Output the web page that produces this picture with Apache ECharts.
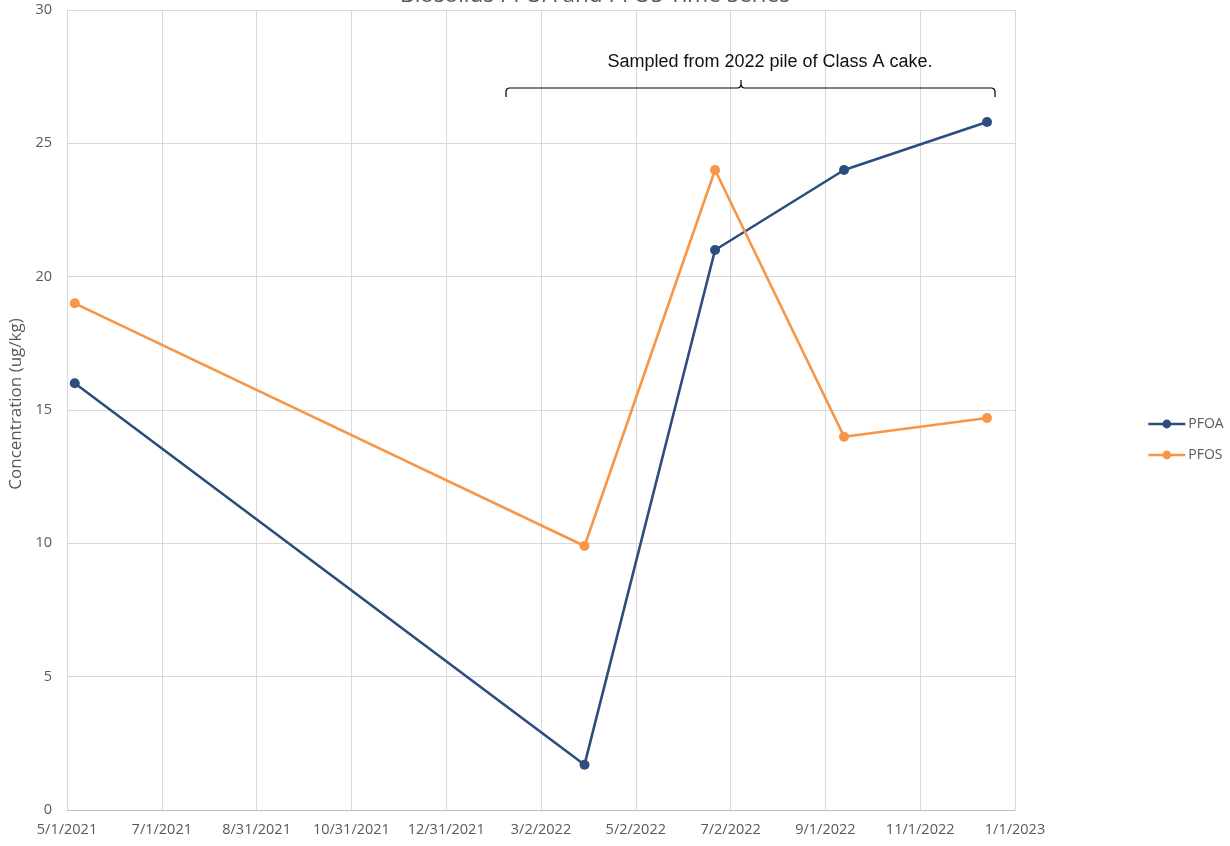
<!DOCTYPE html>
<html>
<head>
<meta charset="utf-8">
<script src="https://cdn.jsdelivr.net/npm/echarts@6/dist/echarts.min.js"></script>
<style>
  html, body { margin: 0; padding: 0; background: #fff; }
  #chart { width: 1230px; height: 846px; }
</style>
</head>
<body>
<div id="chart"></div>
<script>
// Sample dates and measured concentrations (ug/kg)
const sampleDates = ['2021-05-06', '2022-03-30', '2022-06-22', '2022-09-13', '2022-12-14'];
const pfoaValues = [16, 1.7, 21, 24, 25.8];
const pfosValues = [19, 9.9, 24, 14, 14.7];

// Date axis: starts 5/1/2021, one tick every 61 days
const axisStart = '2021-05-01';
const tickDays = 61;
const tickCount = 10;

const DAY = 86400000;
const startMs = Date.parse(axisStart + 'T00:00:00Z');
const dayOffset = d => (Date.parse(d + 'T00:00:00Z') - startMs) / DAY;
const fmtDate = days => {
  const dt = new Date(startMs + Math.round(days) * DAY);
  return (dt.getUTCMonth() + 1) + '/' + dt.getUTCDate() + '/' + dt.getUTCFullYear();
};

const pfoaData = sampleDates.map((d, i) => [dayOffset(d), pfoaValues[i]]);
const pfosData = sampleDates.map((d, i) => [dayOffset(d), pfosValues[i]]);

const FONT = '"Open Sans", "Noto Sans", sans-serif';
const grey = '#595959';

const chart = echarts.init(document.getElementById('chart'), null, { renderer: 'canvas' });
chart.setOption({
  animation: false,
  textStyle: { fontFamily: FONT },
  grid: { left: 67, right: 215, top: 10, bottom: 36, outerBoundsMode: 'none', containLabel: false },
  xAxis: {
    type: 'value',
    min: 0,
    max: tickDays * tickCount,
    interval: tickDays,
    axisLine: { show: true, lineStyle: { color: '#bfbfbf', width: 1 } },
    axisTick: { show: false },
    splitLine: { show: true, lineStyle: { color: '#d9d9d9', width: 1 } },
    axisLabel: { color: grey, fontSize: 14.5, margin: 12, formatter: v => fmtDate(v), fontFamily: FONT }
  },
  yAxis: {
    type: 'value',
    min: 0,
    max: 30,
    interval: 5,
    name: 'Concentration (ug/kg)',
    nameLocation: 'middle',
    nameGap: 42,
    nameTextStyle: { color: grey, fontSize: 17, fontFamily: FONT, padding: [0, 0, 0, 12] },
    axisLine: { show: false },
    axisTick: { show: false },
    splitLine: { show: true, lineStyle: { color: '#d9d9d9', width: 1 } },
    axisLabel: { color: grey, fontSize: 14.5, margin: 15, fontFamily: FONT }
  },
  legend: {
    orient: 'vertical',
    left: 1142,
    top: 412,
    itemWidth: 37,
    itemHeight: 11,
    itemGap: 17,
    lineStyle: { width: 2.6 },
    textStyle: { color: grey, fontSize: 14, fontFamily: FONT, padding: [0, 0, 0, -2] },
    data: ['PFOA', 'PFOS']
  },
  series: [
    {
      name: 'PFOA',
      type: 'line',
      data: pfoaData,
      symbol: 'circle',
      symbolSize: 10,
      lineStyle: { color: '#2C4D7D', width: 2.6 },
      itemStyle: { color: '#2C4D7D' }
    },
    {
      name: 'PFOS',
      type: 'line',
      data: pfosData,
      symbol: 'circle',
      symbolSize: 10,
      lineStyle: { color: '#F79646', width: 2.6 },
      itemStyle: { color: '#F79646' }
    }
  ],
  graphic: [
    {
      type: 'text',
      x: 595,
      y: -16,
      z: 100,
      silent: true,
      style: {
        text: 'Biosolids PFOA and PFOS Time Series',
        fontSize: 22.5,
        fill: grey,
        fontFamily: FONT,
        align: 'center',
        verticalAlign: 'top'
      }
    },
    {
      type: 'text',
      x: 770,
      y: 53,
      z: 100,
      silent: true,
      style: {
        text: 'Sampled from 2022 pile of Class A cake.',
        fontSize: 18,
        fill: '#111',
        fontFamily: '"Liberation Sans", "Open Sans", sans-serif',
        align: 'center',
        verticalAlign: 'top'
      }
    },
    {
      type: 'polyline',
      z: 100,
      silent: true,
      shape: { points: [[506, 97], [506, 91], [507, 89], [509, 88], [738, 88], [740, 87], [741, 85], [741, 80]] },
      style: { fill: null, stroke: '#000', lineWidth: 1.2 }
    },
    {
      type: 'polyline',
      z: 100,
      silent: true,
      shape: { points: [[741, 85], [742, 87], [744, 88], [992, 88], [994, 89], [995, 91], [995, 97]] },
      style: { fill: null, stroke: '#000', lineWidth: 1.2 }
    }
  ]
});
</script>
</body>
</html>
